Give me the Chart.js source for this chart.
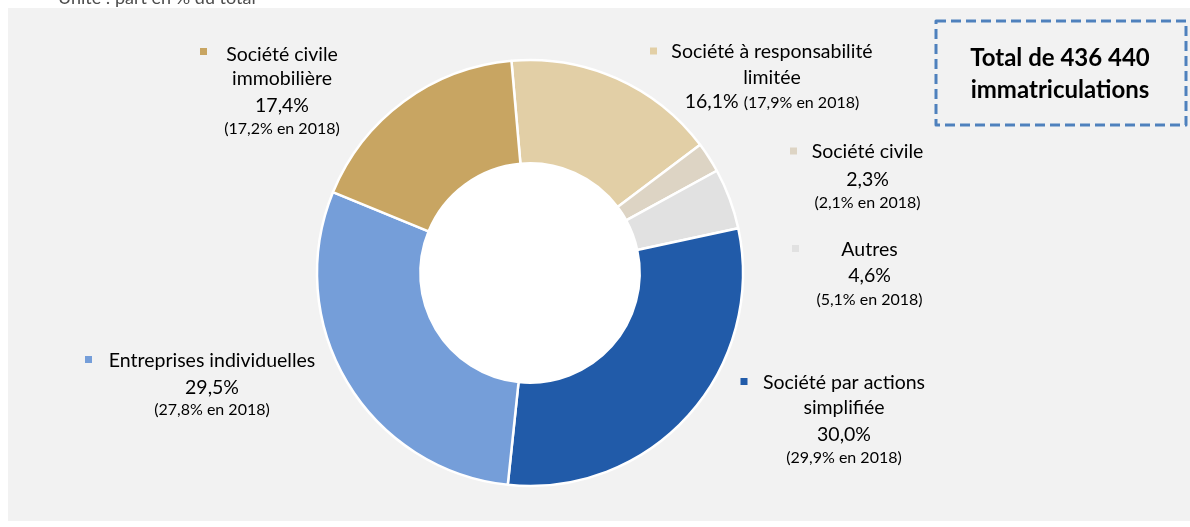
<!DOCTYPE html>
<html lang="fr">
<head>
<meta charset="utf-8">
<script src="https://cdn.jsdelivr.net/npm/chart.js@4.4.1/dist/chart.umd.min.js"></script>
<style>
  html, body { margin: 0; padding: 0; background: #fff; }
  #wrap { width: 1190px; height: 527px; }
</style>
</head>
<body>
<div id="wrap"><canvas id="immat" width="1190" height="527"></canvas></div>
<script>
// répartition des immatriculations par forme juridique (part en % du total)
const categories = [
  ['Société à responsabilité', 'limitée'],
  ['Société civile'],
  ['Autres'],
  ['Société par actions', 'simplifiée'],
  ['Entreprises individuelles'],
  ['Société civile', 'immobilière']
];
const parts2019 = [16.1, 2.3, 4.6, 30.0, 29.5, 17.4];
const parts2018 = [17.9, 2.1, 5.1, 29.9, 27.8, 17.2];
const totalImmat = '436 440';
const unitText = 'Unité : part en % du total';

const colors = ['#E2CFA6', '#DDD4C4', '#E1E1E1', '#215BA9', '#759ED9', '#C8A562'];

// emplacement des étiquettes : carré (mx,my), centre du texte cx, lignes ys
const labelPos = [
  { mx: 653.5, my: 51, cx: 772, ys: [52, 78, 102], inline: true },
  { mx: 793.5, my: 151, cx: 867.5, ys: [152, 180, 203] },
  { mx: 795.5, my: 248.5, cx: 869.5, ys: [250, 276, 300] },
  { mx: 744, my: 381.5, cx: 844, ys: [383, 408, 435, 458] },
  { mx: 88.5, my: 359.5, cx: 212, ys: [361, 388, 410] },
  { mx: 203.5, my: 51.5, cx: 282, ys: [55, 79, 106, 129] }
];

const FONT = 'Lato, "Open Sans", sans-serif';
const BIG = '19.5px ' + FONT;
const SMALL = '16px ' + FONT;
const fmt = v => v.toFixed(1).replace('.', ',') + '%';

// fond gris, trou blanc, titre de l'unité
const fondPlugin = {
  id: 'fond',
  beforeDraw(chart) {
    const ctx = chart.ctx;
    ctx.save();
    ctx.fillStyle = '#ffffff';
    ctx.fillRect(0, 0, chart.width, chart.height);
    ctx.fillStyle = '#f2f2f2';
    ctx.fillRect(8, 8, chart.width - 8, 513);
    ctx.fillStyle = '#4d4d4d';
    ctx.font = '18px ' + FONT;
    ctx.textBaseline = 'alphabetic';
    ctx.fillText(unitText, 58, 4);
    ctx.restore();
  },
  beforeDatasetsDraw(chart) {
    const arc = chart.getDatasetMeta(0).data[0];
    if (!arc) return;
    const ctx = chart.ctx;
    ctx.save();
    ctx.fillStyle = '#ffffff';
    ctx.beginPath();
    ctx.arc(arc.x, arc.y, arc.innerRadius + 2, 0, Math.PI * 2);
    ctx.fill();
    ctx.restore();
  }
};

// étiquettes des secteurs et encadré du total
const etiquettesPlugin = {
  id: 'etiquettes',
  afterDraw(chart) {
    const ctx = chart.ctx;
    ctx.save();
    ctx.textBaseline = 'middle';
    labelPos.forEach((p, i) => {
      ctx.fillStyle = colors[i];
      ctx.fillRect(p.mx - 3.5, p.my - 3.5, 7, 7);
      ctx.fillStyle = '#000000';
      ctx.textAlign = 'center';
      const name = categories[i];
      let k = 0;
      ctx.font = BIG;
      name.forEach(line => { ctx.fillText(line, p.cx, p.ys[k++]); });
      const cur = fmt(parts2019[i]);
      const prev = '(' + fmt(parts2018[i]) + ' en 2018)';
      if (p.inline) {
        ctx.font = BIG;
        const w1 = ctx.measureText(cur + ' ').width;
        ctx.font = SMALL;
        const w2 = ctx.measureText(prev).width;
        const x0 = p.cx - (w1 + w2) / 2;
        ctx.textAlign = 'left';
        ctx.font = BIG;
        ctx.fillText(cur, x0, p.ys[k]);
        ctx.font = SMALL;
        ctx.fillText(prev, x0 + w1, p.ys[k] + 1);
      } else {
        ctx.font = BIG;
        ctx.fillText(cur, p.cx, p.ys[k++]);
        ctx.font = SMALL;
        ctx.fillText(prev, p.cx, p.ys[k]);
      }
    });

    // encadré pointillé
    ctx.strokeStyle = '#4F81BD';
    ctx.lineWidth = 3;
    ctx.lineJoin = 'round';
    ctx.setLineDash([10, 5]);
    ctx.strokeRect(936, 21, 250, 104);
    ctx.setLineDash([]);
    ctx.fillStyle = '#000000';
    ctx.textAlign = 'center';
    ctx.font = 'bold 24px ' + FONT;
    ctx.fillText('Total de ' + totalImmat, 1060, 58);
    ctx.fillText('immatriculations', 1060, 90);
    ctx.restore();
  }
};

new Chart(document.getElementById('immat'), {
  type: 'doughnut',
  data: {
    labels: categories.map(c => c.join(' ')),
    datasets: [{
      data: parts2019,
      backgroundColor: colors,
      borderColor: '#ffffff',
      borderWidth: 2.5,
      borderAlign: 'center'
    }]
  },
  options: {
    responsive: false,
    animation: false,
    rotation: -5,
    radius: 213,
    cutout: 109,
    layout: { padding: { left: 316, right: 446, top: 60, bottom: 41 } },
    plugins: {
      legend: { display: false },
      tooltip: { enabled: false }
    }
  },
  plugins: [fondPlugin, etiquettesPlugin]
});
</script>
</body>
</html>
